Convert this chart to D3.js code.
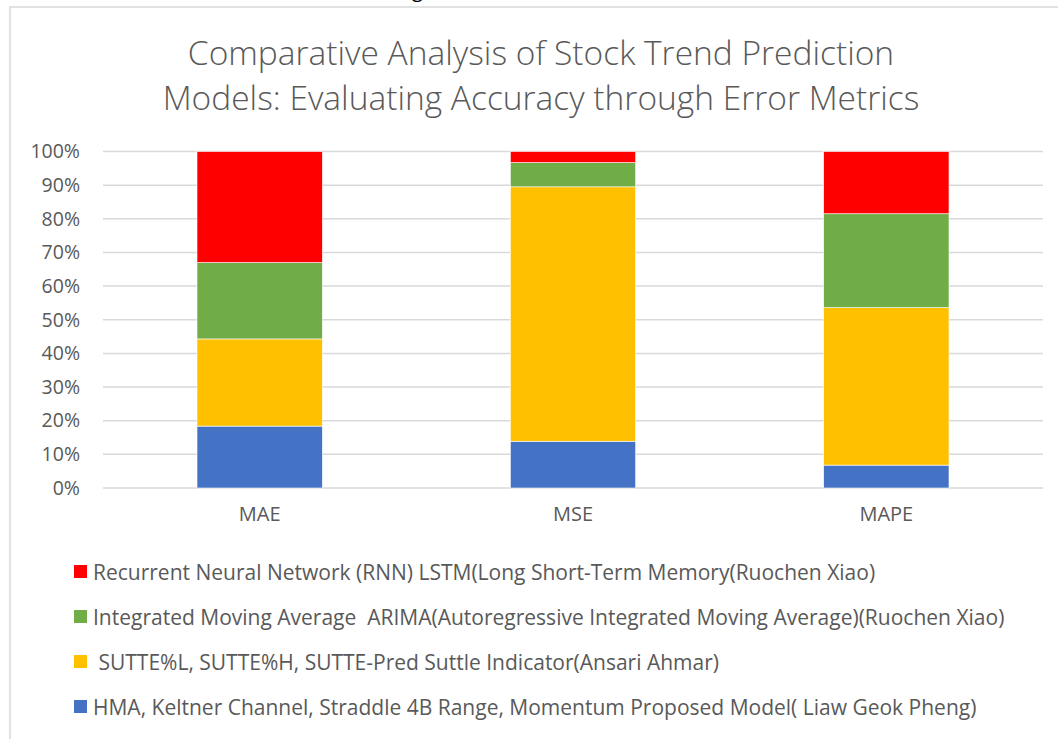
<!DOCTYPE html>
<html>
<head>
<meta charset="utf-8">
<script src="https://cdn.jsdelivr.net/npm/d3@7"></script>
<style>
  body { margin: 0; background: #fff; }
  svg text { white-space: pre; }
</style>
</head>
<body>
<div id="chart"></div>
<script>
var width = 1058
var height = 739

// categories on the x axis
var categories = ["MAE", "MSE", "MAPE"];

// share of each model per metric (%), bottom to top of the stack
var hmaValues = [18.4, 13.9, 6.8];
var sutteValues = [25.9, 75.6, 46.8];
var arimaValues = [22.7, 7.2, 27.9];
var rnnValues = [33.0, 3.3, 18.5];

var seriesKeys = ["hma", "sutte", "arima", "rnn"];
var seriesNames = {
    rnn: "Recurrent Neural Network (RNN) LSTM(Long Short-Term Memory(Ruochen Xiao)",
    arima: "Integrated Moving Average  ARIMA(Autoregressive Integrated Moving Average)(Ruochen Xiao)",
    sutte: " SUTTE%L, SUTTE%H, SUTTE-Pred Suttle Indicator(Ansari Ahmar)",
    hma: "HMA, Keltner Channel, Straddle 4B Range, Momentum Proposed Model( Liaw Geok Pheng)"
};
var legendOrder = ["rnn", "arima", "sutte", "hma"];
var yTicks = [0, 0.1, 0.2, 0.3, 0.4, 0.5, 0.6, 0.7, 0.8, 0.9, 1];

var titleLines = [
    "Comparative Analysis of Stock Trend Prediction",
    "Models: Evaluating Accuracy through Error Metrics"
];

var color = d3.scaleOrdinal()
    .domain(seriesKeys)
    .range(["#4472C4", "#FFC000", "#70AD47", "#FF0000"]);

var font = "'Open Sans', Lato, sans-serif";

// build rows for the stack
var rows = categories.map(function(c, i) {
    return { cat: c, hma: hmaValues[i], sutte: sutteValues[i], arima: arimaValues[i], rnn: rnnValues[i] };
});

var stacked = d3.stack()
    .keys(seriesKeys)
    .offset(d3.stackOffsetExpand)(rows);

var svg = d3.select("#chart")
    .append("svg")
    .attr("width", width)
    .attr("height", height);

// chart frame (cut off on the right and bottom)
svg.append("rect")
    .attr("x", 10)
    .attr("y", 7)
    .attr("width", 1060)
    .attr("height", 760)
    .attr("fill", "#fff")
    .attr("stroke", "#d9d9d9")
    .attr("stroke-width", 1.5);

// fragment of a caption above the frame
svg.append("text")
    .attr("x", 412)
    .attr("y", -3)
    .attr("font-family", font)
    .attr("font-size", 20)
    .attr("fill", "#000")
    .text("g");

var title = svg.append("text")
    .attr("text-anchor", "middle")
    .attr("font-family", font)
    .attr("font-weight", 300)
    .attr("font-size", 33.5)
    .attr("fill", "#595959");

title.selectAll("tspan")
    .data(titleLines)
    .enter()
    .append("tspan")
    .attr("x", 541)
    .attr("y", function(d, i) { return 65 + i * 45; })
    .text(function(d) { return d; });

var x = d3.scaleBand()
    .domain(categories)
    .range([103, 1043])
    .paddingInner(0.6)
    .paddingOuter(0.3);

var y = d3.scaleLinear()
    .domain([0, 1])
    .range([488, 151.5]);

// gridlines
svg.append("g")
    .selectAll("line")
    .data(yTicks)
    .enter()
    .append("line")
    .attr("x1", 103)
    .attr("x2", 1043)
    .attr("y1", function(d) { return y(d); })
    .attr("y2", function(d) { return y(d); })
    .attr("stroke", "#d9d9d9")
    .attr("stroke-width", 1.5);

// y axis labels
var yAxis = d3.axisLeft(y)
    .tickValues(yTicks)
    .tickFormat(d3.format(".0%"))
    .tickSize(0)
    .tickPadding(0);

svg.append("g")
    .attr("transform", "translate(80,0)")
    .call(yAxis)
    .call(function(g) { g.select(".domain").remove(); })
    .selectAll("text")
    .attr("font-family", font)
    .attr("font-size", 19.5)
    .attr("fill", "#595959");

// bars
svg.append("g")
    .selectAll("g")
    .data(stacked)
    .enter()
    .append("g")
    .attr("fill", function(d) { return color(d.key); })
    .selectAll("rect")
    .data(function(d) { return d; })
    .enter()
    .append("rect")
    .attr("x", function(d) { return x(d.data.cat); })
    .attr("width", x.bandwidth())
    .attr("y", function(d) { return y(d[1]); })
    .attr("height", function(d) { return y(d[0]) - y(d[1]); })
    .attr("stroke", "#fff")
    .attr("stroke-width", 0.6);

// x axis labels
var xAxis = d3.axisBottom(x)
    .tickSize(0)
    .tickPadding(0);

svg.append("g")
    .attr("transform", "translate(0,507)")
    .call(xAxis)
    .call(function(g) { g.select(".domain").remove(); })
    .selectAll("text")
    .attr("font-family", font)
    .attr("font-size", 20)
    .attr("fill", "#595959");

// legend
var legend = svg.append("g")
    .selectAll("g")
    .data(legendOrder)
    .enter()
    .append("g")
    .attr("transform", function(d, i) { return "translate(74," + (572 + i * 45) + ")"; });

legend.append("rect")
    .attr("x", 0)
    .attr("y", -7)
    .attr("width", 13)
    .attr("height", 13)
    .attr("fill", function(d) { return color(d); });

legend.append("text")
    .attr("x", 19)
    .attr("y", 7.5)
    .attr("font-family", font)
    .attr("font-size", 21)
    .attr("fill", "#595959")
    .text(function(d) { return seriesNames[d]; });
</script>
</body>
</html>
